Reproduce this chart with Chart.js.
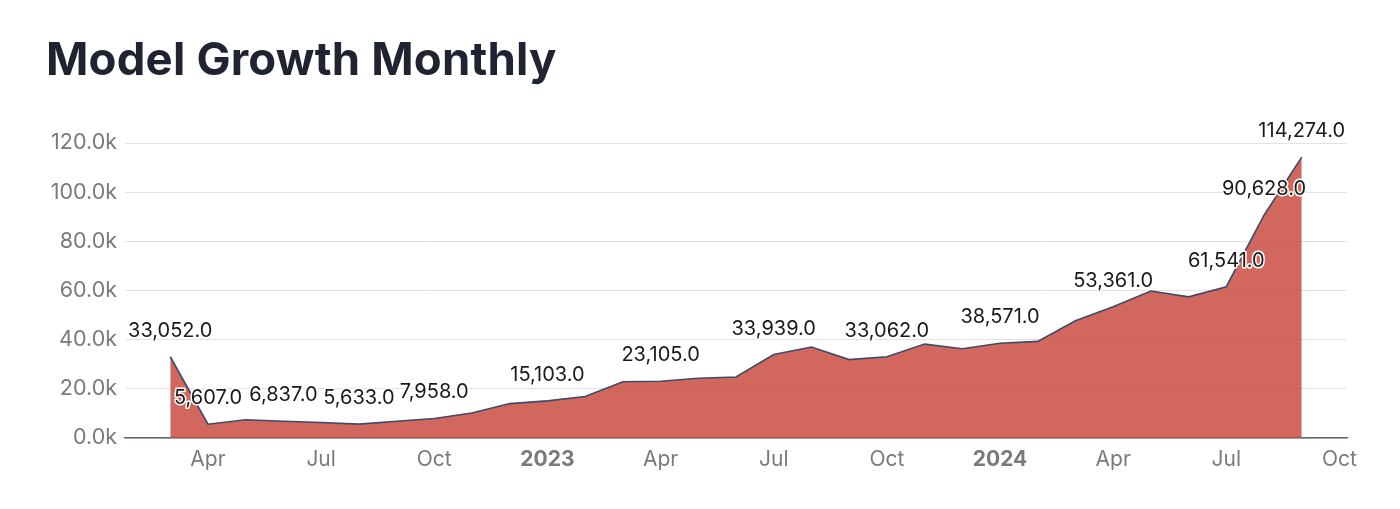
<!DOCTYPE html>
<html>
<head>
<meta charset="utf-8">
<script src="https://cdn.jsdelivr.net/npm/chart.js@4"></script>
<style>
  html, body { margin: 0; padding: 0; background: #fff; }
  #wrap { position: relative; width: 1400px; height: 509px; }
  #title {
    position: absolute; left: 46px; top: 32px;
    font-family: Inter, "Noto Sans", sans-serif; font-weight: 700; font-size: 45.5px;
    color: #1f2430; letter-spacing: 0.2px; margin: 0; line-height: 1.2;
  }
  canvas { position: absolute; left: 0; top: 0; }
</style>
</head>
<body>
<div id="wrap">
  <canvas id="growthChart" width="1400" height="509"></canvas>
  <h1 id="title">Model Growth Monthly</h1>
</div>
<script>
// months from Mar 2022 to Sep 2024, one point each
const months = [
  "2022-03", "2022-04", "2022-05", "2022-06", "2022-07", "2022-08", "2022-09", "2022-10", "2022-11", "2022-12",
  "2023-01", "2023-02", "2023-03", "2023-04", "2023-05", "2023-06", "2023-07", "2023-08", "2023-09", "2023-10", "2023-11", "2023-12",
  "2024-01", "2024-02", "2024-03", "2024-04", "2024-05", "2024-06", "2024-07", "2024-08", "2024-09"
];
const newModels = [
  33052, 5607, 7400, 6837, 6300, 5633, 6800, 7958, 10200, 14000,
  15103, 16900, 22900, 23105, 24300, 24800, 33939, 37000, 31900, 33062, 38200, 36300,
  38571, 39300, 47700, 53361, 59800, 57400, 61541, 90628, 114274
];
// which points carry a value label
const labelledMonths = [
  "2022-03", "2022-04", "2022-06", "2022-08", "2022-10", "2023-01", "2023-04",
  "2023-07", "2023-10", "2024-01", "2024-04", "2024-07", "2024-08", "2024-09"
];
// x ticks: month index from Mar 2022 -> text
const tickIdx = [1, 4, 7, 10, 13, 16, 19, 22, 25, 28, 31];
const tickText = ["Apr", "Jul", "Oct", "2023", "Apr", "Jul", "Oct", "2024", "Apr", "Jul", "Oct"];
const yTicks = [0, 20000, 40000, 60000, 80000, 100000, 120000];

const FONT = 'Inter, "Noto Sans", sans-serif';

const pointLabels = {
    id: "pointLabels",
    afterDatasetsDraw(chart) {
        const ctx = chart.ctx;
        const meta = chart.getDatasetMeta(0);
        ctx.save();
        ctx.font = "20px " + FONT;
        ctx.textAlign = "center";
        ctx.textBaseline = "middle";
        ctx.lineJoin = "round";
        months.forEach((m, i) => {
            if (!labelledMonths.includes(m)) return;
            const pt = meta.data[i];
            const txt = newModels[i].toLocaleString("en-US", { minimumFractionDigits: 1, maximumFractionDigits: 1 });
            const y = pt.y - 26;
            ctx.strokeStyle = "#ffffff";
            ctx.lineWidth = 3;
            ctx.strokeText(txt, pt.x, y);
            ctx.fillStyle = "#1a1a1a";
            ctx.fillText(txt, pt.x, y);
        });
        ctx.restore();
    }
};

const canvas = document.getElementById("growthChart");
new Chart(canvas, {
    type: "line",
    data: {
        datasets: [{
            label: "Models",
            data: newModels.map((v, i) => ({ x: i, y: v })),
            borderColor: "#3d4a6b",
            borderWidth: 1.6,
            backgroundColor: "rgba(200, 70, 58, 0.82)",
            fill: "origin",
            pointRadius: 0,
            tension: 0
        }]
    },
    options: {
        responsive: false,
        animation: false,
        layout: { padding: { left: 0, right: 53, top: 143, bottom: 29 } },
        plugins: {
            legend: { display: false },
            tooltip: { enabled: false }
        },
        scales: {
            x: {
                type: "linear",
                min: -1.2,
                max: 31.2,
                afterBuildTicks: (scale) => {
                    scale.ticks = tickIdx.map(v => ({ value: v }));
                },
                afterFit: (scale) => { scale.height = 42; },
                grid: { display: false, drawTicks: false },
                border: { display: true, color: "#5b6475", width: 1.5 },
                ticks: {
                    autoSkip: false,
                    maxRotation: 0,
                    padding: 9,
                    color: "#7a7a7a",
                    font: (c) => ({
                        family: FONT,
                        size: 21,
                        weight: /^\d{4}$/.test(tickText[c.index]) ? "700" : "400"
                    }),
                    callback: (v, i) => tickText[i]
                }
            },
            y: {
                min: 0,
                max: 120000,
                afterBuildTicks: (scale) => {
                    scale.ticks = yTicks.map(v => ({ value: v }));
                },
                afterFit: (scale) => { scale.width = 125; },
                grid: { color: "#e2e2e2", lineWidth: 1, drawTicks: false },
                border: { display: false },
                ticks: {
                    padding: 8,
                    color: "#7a7a7a",
                    font: { family: FONT, size: 21.5 },
                    callback: (v) => (v / 1000).toFixed(1) + "k"
                }
            }
        }
    },
    plugins: [pointLabels]
});
</script>
</body>
</html>
